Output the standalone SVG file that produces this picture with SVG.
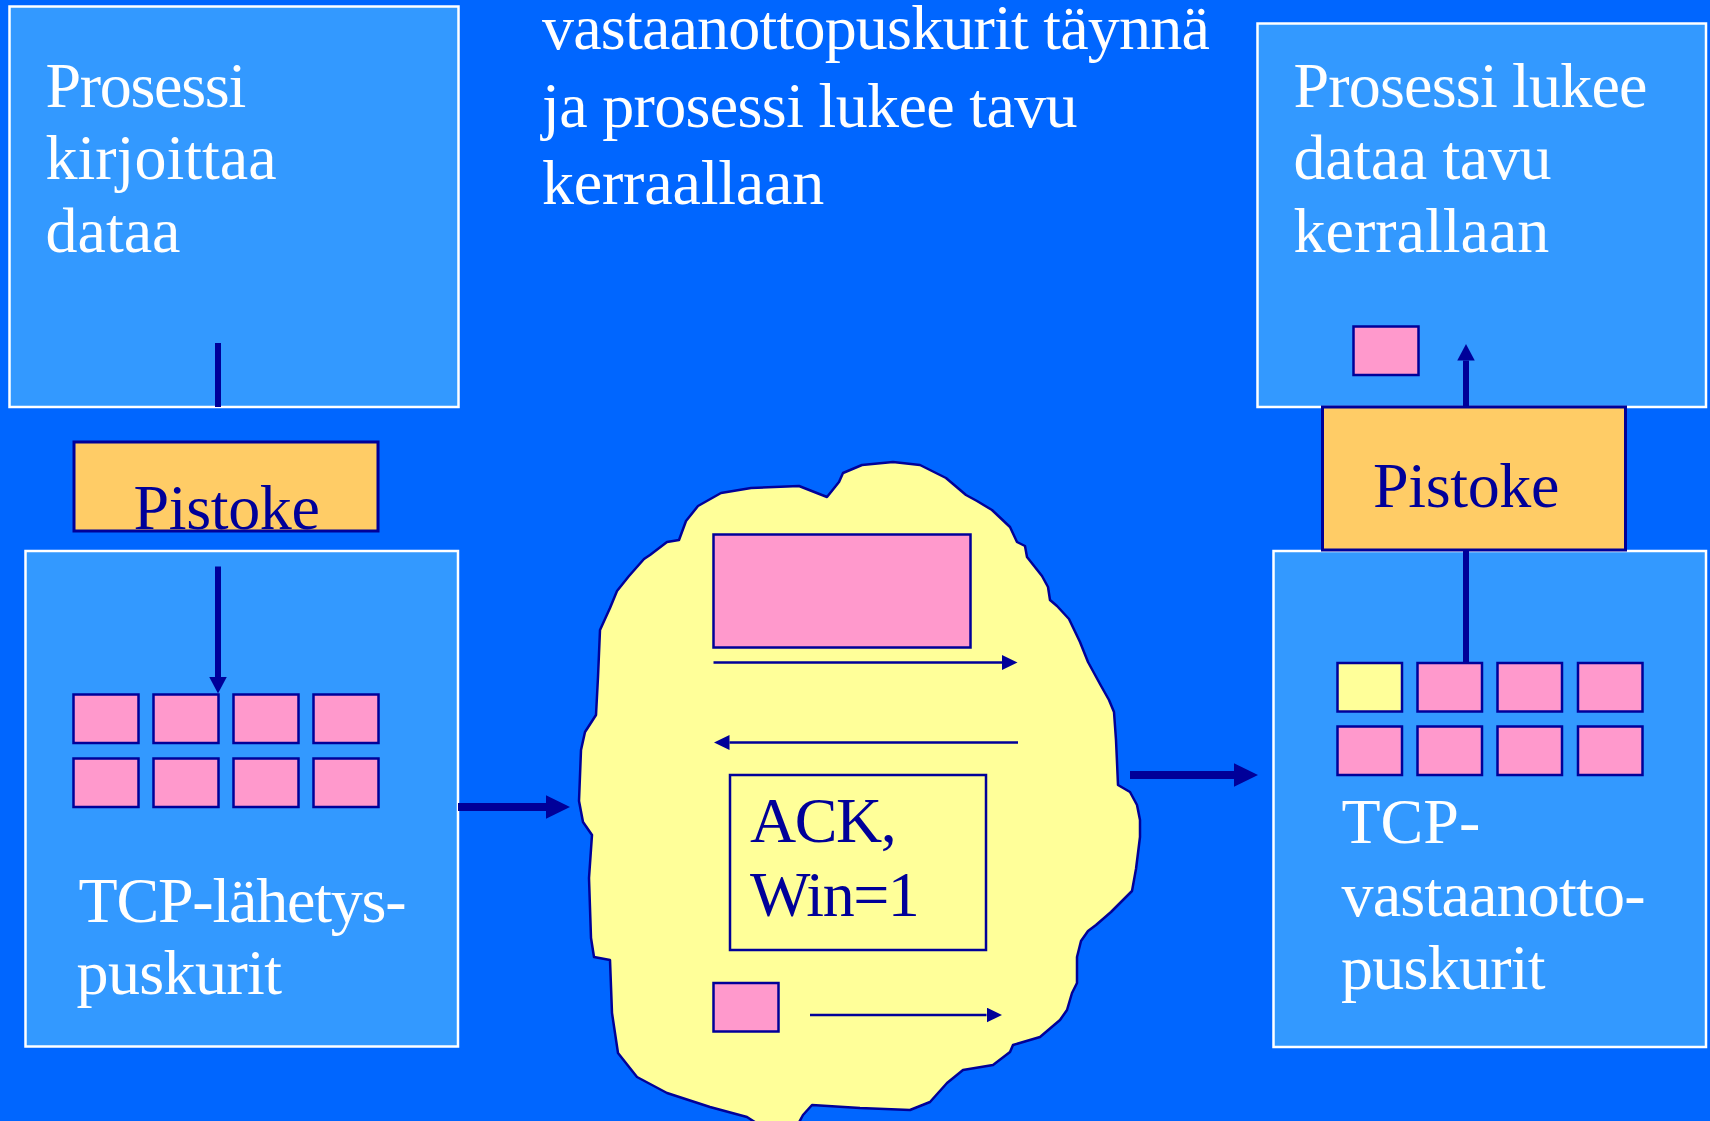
<svg xmlns="http://www.w3.org/2000/svg" width="1710" height="1121" viewBox="0 0 1710 1121">
  <style>
    .box { fill: #3399FF; stroke: #FFFFFF; stroke-width: 2.5; }
    .socket { fill: #FFCC66; stroke: #000099; stroke-width: 3; }
    .seg { fill: #FF99CC; stroke: #000099; stroke-width: 2.5; }
    .seg-free { fill: #FFFF99; stroke: #000099; stroke-width: 2.5; }
    .cloud { fill: #FFFF99; stroke: #000099; stroke-width: 2.5; stroke-linejoin: round; }
    .ack { fill: none; stroke: #000099; stroke-width: 2.5; }
    .wt { font-family: "Liberation Serif", "Times New Roman", serif; font-size: 64px; fill: #FFFFFF; }
    .nt { font-family: "Liberation Serif", "Times New Roman", serif; font-size: 64px; fill: #000099; }
    .thick { stroke: #000099; stroke-width: 8; fill: none; }
    .mid { stroke: #000099; stroke-width: 6; fill: none; }
    .thin { stroke: #000099; stroke-width: 2.5; fill: none; }
  </style>
  <defs>
    <marker id="headBig" markerUnits="userSpaceOnUse" markerWidth="24" markerHeight="24" refX="0" refY="11.75" orient="auto">
      <path d="M0,0 L24,11.75 L0,23.5 z" fill="#000099"/>
    </marker>
    <marker id="headMid" markerUnits="userSpaceOnUse" markerWidth="17" markerHeight="18" refX="0" refY="8.75" orient="auto">
      <path d="M0,0 L16.5,8.75 L0,17.5 z" fill="#000099"/>
    </marker>
    <marker id="headThin" markerUnits="userSpaceOnUse" markerWidth="16" markerHeight="16" refX="0" refY="7.5" orient="auto">
      <path d="M0,0 L15.5,7.5 L0,15 z" fill="#000099"/>
    </marker>
  </defs>

  <!-- backdrop -->
  <rect x="0" y="0" width="1710" height="1121" fill="#0066FF"/>

  <!-- caption -->
  <g id="caption">
    <text class="wt" font-size="62.5" letter-spacing="-0.8" x="542" y="48.5">vastaanottopuskurit täynnä</text>
    <text class="wt" font-size="62.5" letter-spacing="-0.65" x="542" y="126.5">ja prosessi lukee tavu</text>
    <text class="wt" font-size="62.5" letter-spacing="-0.2" x="542" y="203.5">kerraallaan</text>
  </g>

  <!-- sending process -->
  <g id="sender-process">
    <rect class="box" x="9.5" y="6.5" width="449" height="400.5"/>
    <text class="wt" letter-spacing="-1.3" x="45.5" y="106.5">Prosessi</text>
    <text class="wt" x="45.5" y="179">kirjoittaa</text>
    <text class="wt" x="45.5" y="252">dataa</text>
  </g>

  <!-- sending socket -->
  <g id="sender-socket">
    <rect class="socket" x="74" y="442" width="304" height="89"/>
    <text class="nt" letter-spacing="-0.35" x="133.5" y="528.5">Pistoke</text>
  </g>

  <!-- TCP send buffers -->
  <g id="send-buffers">
    <rect class="box" x="25.5" y="551" width="432.5" height="495.5"/>
    <rect class="seg" x="73.5" y="694.5" width="65" height="48.5"/>
    <rect class="seg" x="153.5" y="694.5" width="65" height="48.5"/>
    <rect class="seg" x="233.5" y="694.5" width="65" height="48.5"/>
    <rect class="seg" x="313.5" y="694.5" width="65" height="48.5"/>
    <rect class="seg" x="73.5" y="758.5" width="65" height="48.5"/>
    <rect class="seg" x="153.5" y="758.5" width="65" height="48.5"/>
    <rect class="seg" x="233.5" y="758.5" width="65" height="48.5"/>
    <rect class="seg" x="313.5" y="758.5" width="65" height="48.5"/>
    <text class="wt" letter-spacing="-1.2" x="78.5" y="921.5">TCP-lähetys-</text>
    <text class="wt" letter-spacing="-0.6" x="76.5" y="994">puskurit</text>
  </g>

  <!-- network cloud -->
  <g id="network">
    <path class="cloud" d="M679,540 L686,521 L698,506 L721,493 L751,488 L799,486 L827,497 L839,482 L843,473 L862,465 L893,462 L920,465 L946,478 L966,495 L977,501 L992,510 L1010,527 L1017,542 L1025,546 L1027,557 L1042,576 L1048,587 L1050,600 L1057,606 L1069,619 L1080,642 L1088,662 L1100,684 L1109,700 L1114,712 L1116,740 L1117,762 L1118,785 L1130,792 L1137,805 L1140,820 L1140,837 L1136,869 L1132,891 L1119,904 L1111,912 L1096,925 L1088,931 L1081,941 L1077,957 L1077,983 L1072,993 L1067,1010 L1060,1020 L1040,1037 L1013,1045 L1010,1052 L993,1065 L963,1070 L947,1083 L930,1102 L910,1110 L860,1108 L812,1105 L803,1115 L796,1128 L764,1128 L747,1117 L710,1107 L667,1093 L637,1077 L618,1053 L612,1013 L610,960 L594,957 L591,938 L589,878 L592,835 L583,822 L579,801 L581,750 L585,732 L596,715 L598,677 L600,630 L610,608 L617,591 L629,576 L644,559 L650,555 L667,542 Z"/>
    <rect class="seg" x="713.5" y="534.5" width="257" height="113"/>
    <rect class="ack" x="730" y="775" width="256" height="175"/>
    <text class="nt" font-size="60" letter-spacing="-1.5" x="750" y="842">ACK,</text>
    <text class="nt" font-size="60" letter-spacing="-1.5" x="750" y="915.5">Win=1</text>
    <rect class="seg" x="713.5" y="983" width="65" height="48.5"/>
  </g>

  <!-- receiving process -->
  <g id="receiver-process">
    <rect class="box" x="1257.5" y="23.5" width="448.5" height="383.5"/>
    <text class="wt" letter-spacing="-0.8" x="1293.5" y="106.5">Prosessi lukee</text>
    <text class="wt" letter-spacing="-0.35" x="1293.5" y="179">dataa tavu</text>
    <text class="wt" x="1293.5" y="252">kerrallaan</text>
    <rect class="seg" x="1353.5" y="326.5" width="65" height="48.5"/>
  </g>

  <!-- TCP receive buffers -->
  <g id="receive-buffers">
    <rect class="box" x="1273.5" y="551" width="432.5" height="496"/>
    <rect class="seg-free" x="1337.5" y="663" width="64.5" height="48.5"/>
    <rect class="seg" x="1417.5" y="663" width="64.5" height="48.5"/>
    <rect class="seg" x="1497.5" y="663" width="64.5" height="48.5"/>
    <rect class="seg" x="1578" y="663" width="64.5" height="48.5"/>
    <rect class="seg" x="1337.5" y="726.5" width="64.5" height="48.5"/>
    <rect class="seg" x="1417.5" y="726.5" width="64.5" height="48.5"/>
    <rect class="seg" x="1497.5" y="726.5" width="64.5" height="48.5"/>
    <rect class="seg" x="1578" y="726.5" width="64.5" height="48.5"/>
    <text class="wt" x="1341.5" y="843">TCP-</text>
    <text class="wt" letter-spacing="-0.8" x="1341.5" y="916">vastaanotto-</text>
    <text class="wt" letter-spacing="-0.75" x="1341" y="989">puskurit</text>
  </g>

  <!-- receiving socket -->
  <g id="receiver-socket">
    <rect class="socket" x="1322.5" y="407" width="303" height="143"/>
    <text class="nt" letter-spacing="-0.35" x="1373" y="506.5">Pistoke</text>
  </g>

  <!-- connectors -->
  <g id="connectors">
    <line class="mid" x1="218" y1="343" x2="218" y2="407"/>
    <line class="mid" x1="218" y1="566.5" x2="218" y2="677" marker-end="url(#headMid)"/>
    <line class="thick" x1="458" y1="807" x2="546" y2="807" marker-end="url(#headBig)"/>
    <line class="thin" x1="713.5" y1="662.5" x2="1002" y2="662.5" marker-end="url(#headThin)"/>
    <line class="thin" x1="1018" y1="742.5" x2="729.5" y2="742.5" marker-end="url(#headThin)"/>
    <line class="thin" x1="810" y1="1015" x2="986.5" y2="1015" marker-end="url(#headThin)"/>
    <line class="thick" x1="1130" y1="775" x2="1234" y2="775" marker-end="url(#headBig)"/>
    <line class="mid" x1="1466" y1="551" x2="1466" y2="662"/>
    <line class="mid" x1="1466" y1="407" x2="1466" y2="360.5" marker-end="url(#headMid)"/>
  </g>
</svg>
